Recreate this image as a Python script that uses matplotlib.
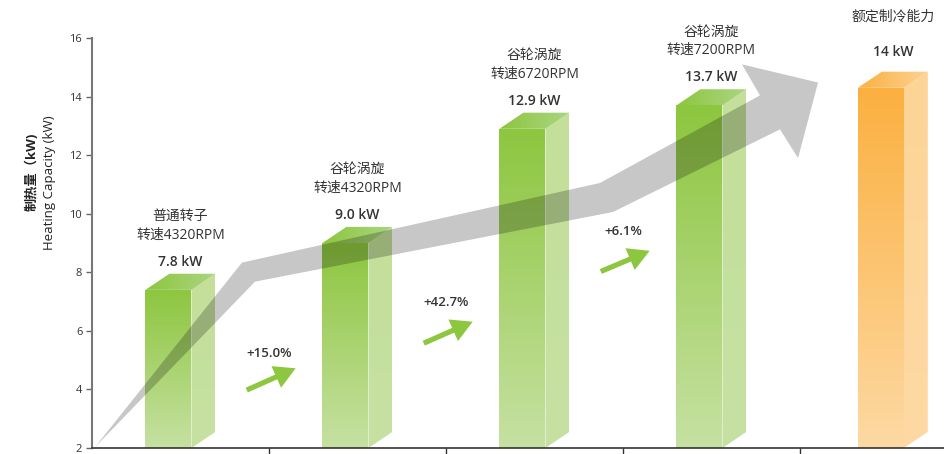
import numpy as np
import matplotlib
matplotlib.use("Agg")
import matplotlib.pyplot as plt
from matplotlib.patches import Polygon, FancyArrowPatch
from matplotlib.colors import to_rgb

plt.rcParams['font.family'] = ['Open Sans', 'Noto Sans CJK SC', 'DejaVu Sans']

# ---------------- data ----------------
categories = ['普通转子\n转速4320RPM', '谷轮涡旋\n转速4320RPM', '谷轮涡旋\n转速6720RPM',
              '谷轮涡旋\n转速7200RPM', '额定制冷能力']
bar_heights = [7.4, 9.0, 12.9, 13.7, 14.3]          # drawn heights (kW)
value_labels = ['7.8 kW', '9.0 kW', '12.9 kW', '13.7 kW', '14 kW']
pct_labels = ['+15.0%', '+42.7%', '+6.1%']
pct_label_y = [5.23, 6.97, 9.38]
pct_arrow_tail_y = [3.94, 5.54, 7.99]
pct_arrow_tip_y = [4.76, 6.35, 8.77]
y_ticks = [2, 4, 6, 8, 10, 12, 14, 16]

# big gray trend arrow outline (data coords)
trend_x = [-0.483, 0.347, 2.370, 3.274, 3.172, 3.602, 3.489, 3.387, 2.444, 0.421]
trend_y = [2.03, 8.33, 11.05, 14.04, 15.10, 14.48, 11.90, 12.88, 10.06, 7.68]

# ---------------- style ----------------
green_front = ('#8DC63F', '#C6E1A2')
green_side = ('#C3DF99', '#C6E1A2')
green_top = ('#8DC63F', '#AAD580')
orange_front = ('#FBB040', '#FDD9A3')
orange_side = ('#FDD496', '#FDD9A3')
orange_top = ('#FBB040', '#FDD294')

fig = plt.figure(figsize=(9.44, 4.54), dpi=100)
ax = fig.add_axes([92 / 944, 6 / 454, 1 - 92 / 944, 410 / 454])

front_w = 0.26
depth_x = 0.135
depth_y = 0.55
ybase = 2


def grad_img(c_a, c_b, vertical=True, n=128):
    a = np.array(to_rgb(c_a))
    b = np.array(to_rgb(c_b))
    t = np.linspace(0, 1, n)
    cols = a[None, :] * (1 - t[:, None]) + b[None, :] * t[:, None]
    if vertical:
        return cols[:, None, :]   # row 0 = top (origin upper)
    return cols[None, :, :]       # col 0 = left


def face(verts, img, extent, z=2):
    poly = Polygon(verts, closed=True, transform=ax.transData, facecolor='none', edgecolor='none')
    im = ax.imshow(img, extent=extent, aspect='auto', origin='upper', zorder=z, interpolation='bilinear')
    im.set_clip_path(poly)


for i, h in enumerate(bar_heights):
    is_ref = (i == len(bar_heights) - 1)
    fc, sc, tc = (orange_front, orange_side, orange_top) if is_ref else (green_front, green_side, green_top)
    x0 = i - 0.198 + (0.025 if is_ref else 0)
    x1 = x0 + front_w
    # front
    face([(x0, ybase), (x1, ybase), (x1, h), (x0, h)], grad_img(fc[0], fc[1]), [x0, x1, ybase, h])
    # side
    face([(x1, ybase), (x1 + depth_x, ybase + depth_y), (x1 + depth_x, h + depth_y), (x1, h)],
         grad_img(sc[0], sc[1]), [x1, x1 + depth_x, ybase, h + depth_y])
    # top
    face([(x0, h), (x1, h), (x1 + depth_x, h + depth_y), (x0 + depth_x, h + depth_y)],
         grad_img(tc[0], tc[1], vertical=False), [x0, x1 + depth_x, h, h + depth_y])

    # labels
    cx = x0 + (front_w + depth_x) / 2
    if is_ref:
        v_off, n_off = 36, 71
    else:
        v_off, n_off = 28, 64
    ax.annotate(value_labels[i], (cx, h), xytext=(0, v_off * 0.72), textcoords='offset points',
                ha='center', va='center', fontsize=10, fontweight='semibold', color='#333333',
                zorder=6, annotation_clip=False)
    ax.annotate(categories[i], (cx, h), xytext=(0, n_off * 0.72), textcoords='offset points',
                ha='center', va='center', fontsize=10, color='#333333', linespacing=1.3,
                zorder=6, annotation_clip=False)

# gray trend arrow (translucent, over the bars)
ax.add_patch(Polygon(list(zip(trend_x, trend_y)), closed=True, facecolor='black',
                     alpha=0.22, edgecolor='none', zorder=4))

# percentage arrows and labels
for k, lab in enumerate(pct_labels):
    xc = k + 0.5
    arr = FancyArrowPatch((xc - 0.14, pct_arrow_tail_y[k]), (xc + 0.165, pct_arrow_tip_y[k]),
                          arrowstyle='simple,head_length=0.9,head_width=1.0,tail_width=0.22',
                          mutation_scale=17, color='#8DC63F', lw=0, zorder=5)
    ax.add_patch(arr)
    ax.text(xc, pct_label_y[k], lab, ha='center', va='center', fontsize=9.5,
            fontweight='semibold', color='#333333', zorder=6)

# axes styling
ax.set_xlim(-0.5, (944 - 92) / 177 - 0.5)
ax.set_ylim(2, 16)
ax.set_yticks(y_ticks)
ax.set_xticks([0.5, 1.5, 2.5, 3.5])
ax.set_xticklabels([])
ax.tick_params(axis='y', direction='out', length=4, width=1, colors='#666666', labelsize=8,
               labelcolor='#333333', pad=3)
ax.tick_params(axis='x', direction='out', length=4, width=1, colors='#333333')
for s in ['top', 'right']:
    ax.spines[s].set_visible(False)
ax.spines['left'].set_color('#777777')
ax.spines['left'].set_linewidth(1.5)
ax.spines['bottom'].set_color('#333333')
ax.spines['bottom'].set_linewidth(1.2)
ax.set_facecolor('none')

fig.text(32 / 944, 1 - 172 / 454, '制热量（kW)', rotation=90, ha='center', va='center',
         fontsize=9.5, fontweight='bold', color='#222222')
fig.text(50 / 944, 1 - 183 / 454, 'Heating Capacity (kW)', rotation=90, ha='center', va='center',
         fontsize=9.5, color='#222222')

fig.savefig('out.png', dpi=100)
